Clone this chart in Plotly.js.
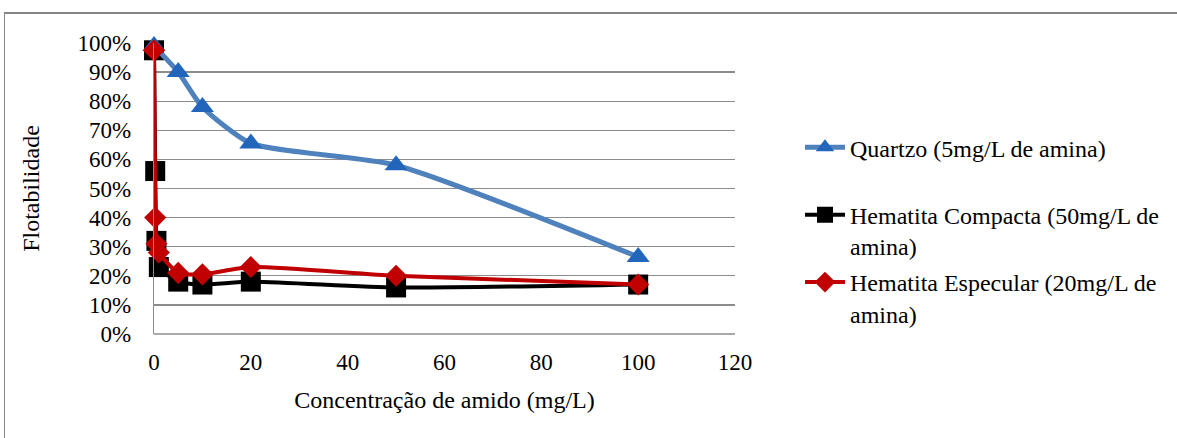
<!DOCTYPE html>
<html>
<head>
<meta charset="utf-8">
<script src="https://cdn.plot.ly/plotly-3.0.1.min.js"></script>
<style>
  html, body { margin: 0; padding: 0; background: #ffffff; }
  #chart { width: 1177px; height: 438px; }
</style>
</head>
<body>
<div id="chart"></div>
<script>
// ---- data ----
const quartzoX = [0, 5, 10, 20, 50, 100];
const quartzoY = [0.99, 0.90, 0.78, 0.655, 0.58, 0.265];

const compactaX = [0, 0.25, 0.5, 1, 5, 10, 20, 50, 100];
const compactaY = [0.975, 0.56, 0.32, 0.23, 0.18, 0.17, 0.18, 0.16, 0.17];

const especularX = [0, 0.25, 0.5, 1, 5, 10, 20, 50, 100];
const especularY = [0.975, 0.40, 0.31, 0.28, 0.21, 0.205, 0.23, 0.20, 0.17];

const seriesNames = [
  "Quartzo (5mg/L de amina)<br>\u00a0",
  "Hematita Compacta (50mg/L de<br>amina)",
  "Hematita Especular (20mg/L de<br>amina)"
];
const xTickVals = [0, 20, 40, 60, 80, 100, 120];
const yTickVals = [0, 0.1, 0.2, 0.3, 0.4, 0.5, 0.6, 0.7, 0.8, 0.9, 1.0];
const yTickText = ["0%", "10%", "20%", "30%", "40%", "50%", "60%", "70%", "80%", "90%", "100%"];
const xTitle = "Concentração de amido (mg/L)";
const yTitle = "Flotabilidade";

const FONT = "'Liberation Serif', 'Times New Roman', Times, serif";

const traces = [
  {
    x: compactaX, y: compactaY, name: seriesNames[1], type: "scatter", mode: "lines+markers",
    line: { color: "#000000", width: 4, shape: "spline", smoothing: 0.6 },
    marker: { symbol: "square", size: 20, color: "#000000" },
    cliponaxis: false, legendgroup: "b", legendrank: 2
  },
  {
    x: quartzoX, y: quartzoY, name: seriesNames[0], type: "scatter", mode: "lines+markers",
    line: { color: "#4f81bd", width: 5, shape: "spline", smoothing: 0.6 },
    marker: { symbol: "triangle-up", size: 20, color: "#2266bb" },
    cliponaxis: false, legendgroup: "a", legendrank: 1
  },
  {
    x: especularX, y: especularY, name: seriesNames[2], type: "scatter", mode: "lines+markers",
    line: { color: "#c00000", width: 4, shape: "spline", smoothing: 0.6 },
    marker: { symbol: "diamond", size: 17, color: "#c00000" },
    cliponaxis: false, legendgroup: "c", legendrank: 3
  }
];

const L = 154, R = 735, T = 42.5, B = 334.5;
const pw = R - L, ph = B - T;
function px2x(p) { return (p - L) / pw; }
function py2y(p) { return (B - p) / ph; }

const layout = {
  width: 1177, height: 438,
  margin: { l: L, r: 1177 - R, t: T, b: 438 - B, pad: 0 },
  paper_bgcolor: "#ffffff", plot_bgcolor: "#ffffff",
  font: { family: FONT, size: 23, color: "#000000" },
  showlegend: true,
  legend: {
    x: px2x(800), y: py2y(125), xanchor: "left", yanchor: "top",
    font: { family: FONT, size: 24, color: "#000000" },
    valign: "top", traceorder: "grouped", tracegroupgap: 2,
    bgcolor: "rgba(0,0,0,0)", borderwidth: 0, itemwidth: 40
  },
  xaxis: {
    range: [0, 120], tickvals: xTickVals, ticktext: xTickVals.map(String),
    showgrid: false, zeroline: false, showline: false, ticks: "",
    ticklabelstandoff: 12,
    tickfont: { family: FONT, size: 23 },
    title: { text: xTitle, font: { family: FONT, size: 24 }, standoff: 17 },
    fixedrange: true
  },
  yaxis: {
    range: [0, 1], tickvals: yTickVals, ticktext: yTickText,
    showgrid: true, gridcolor: "#8c8c8c", gridwidth: 1.3,
    zeroline: false, showline: true, linecolor: "#8c8c8c", linewidth: 1.3, ticks: "",
    ticklabelstandoff: 17,
    tickfont: { family: FONT, size: 23 },
    title: { text: yTitle, font: { family: FONT, size: 24 }, standoff: 31 },
    fixedrange: true
  },
  shapes: [
    { type: "line", xref: "paper", yref: "paper", x0: 0, x1: 1, y0: 0, y1: 0,
      line: { color: "#8c8c8c", width: 1.3 } },
    { type: "line", xref: "paper", yref: "paper", x0: px2x(4), x1: px2x(1180), y0: py2y(12.5), y1: py2y(12.5),
      line: { color: "#868686", width: 2 } },
    { type: "line", xref: "paper", yref: "paper", x0: px2x(4.5), x1: px2x(4.5), y0: py2y(12.5), y1: py2y(440),
      line: { color: "#868686", width: 1 } }
  ]
};

Plotly.newPlot("chart", traces, layout, { displayModeBar: false, staticPlot: true });
</script>
</body>
</html>
